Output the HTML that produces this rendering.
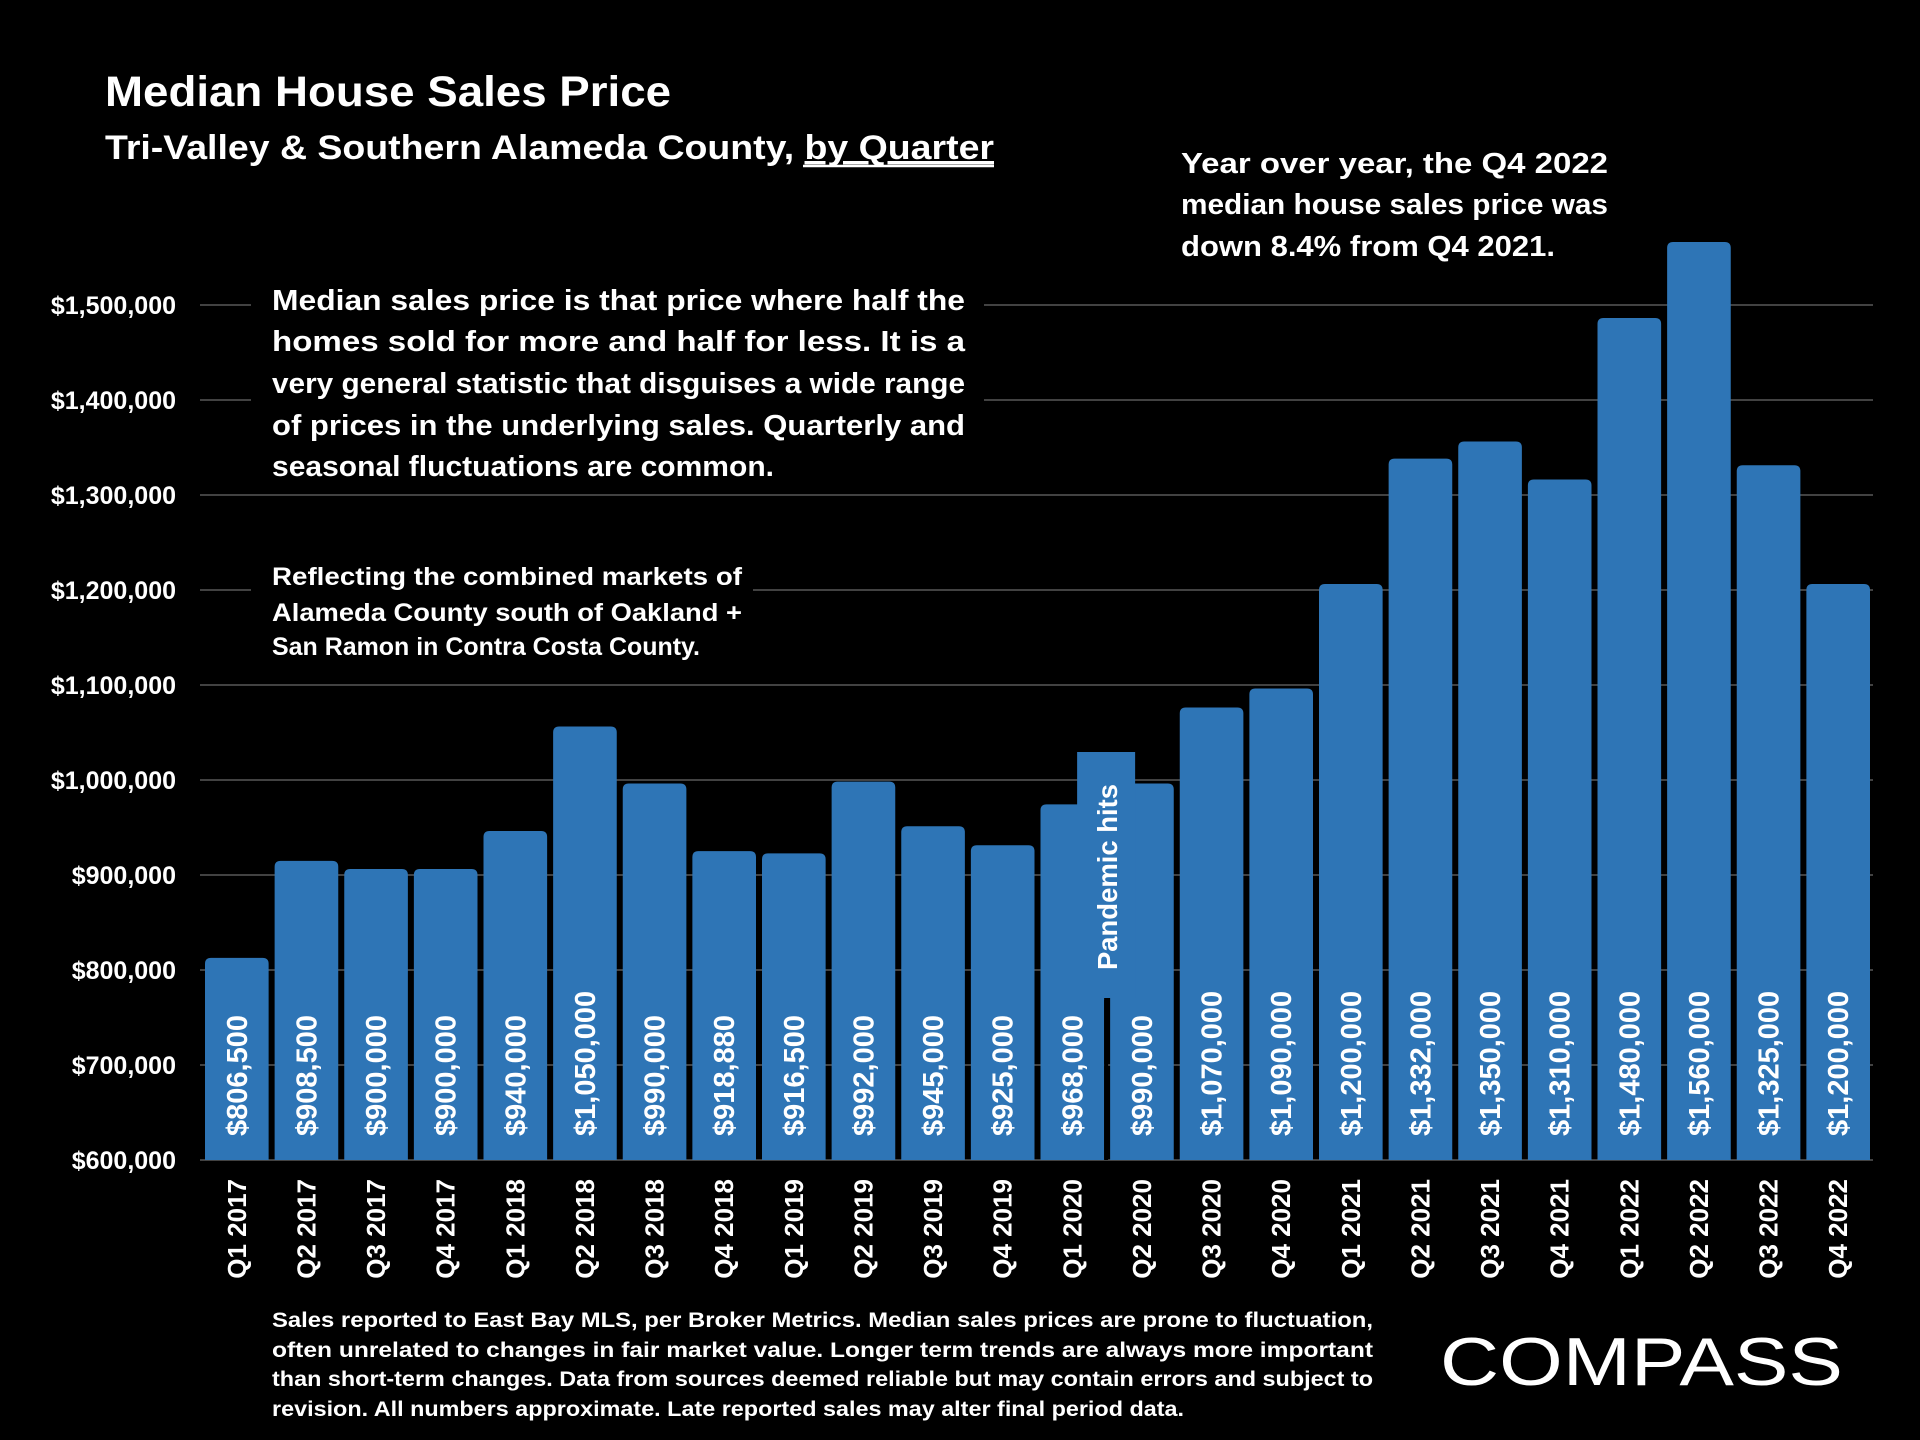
<!DOCTYPE html>
<html><head><meta charset="utf-8"><style>
html,body{margin:0;padding:0;background:#000;}
svg{display:block;font-family:"Liberation Sans",sans-serif;font-weight:bold;}
</style></head><body>
<svg id="chart" width="1920" height="1440" viewBox="0 0 1920 1440" xmlns="http://www.w3.org/2000/svg">
<rect width="1920" height="1440" fill="#000"/>
<g id="grid"></g>
<g id="yaxis"></g>
<g id="bars"></g>
<g id="xaxis"></g>

<g fill="#fff">
<text x="105" y="106" font-size="43" textLength="566" lengthAdjust="spacingAndGlyphs">Median House Sales Price</text>
<text x="105" y="159" font-size="34" textLength="889" lengthAdjust="spacingAndGlyphs">Tri-Valley &amp; Southern Alameda County, <tspan text-decoration="underline">by Quarter</tspan></text>
<line x1="803" y1="166" x2="994" y2="166" stroke="#fff" stroke-width="2.5"/>
</g>

<g fill="#fff" font-size="29">
<text x="1181" y="173" textLength="427" lengthAdjust="spacingAndGlyphs">Year over year, the Q4 2022</text>
<text x="1181" y="214" textLength="427" lengthAdjust="spacingAndGlyphs">median house sales price was</text>
<text x="1181" y="256" textLength="374" lengthAdjust="spacingAndGlyphs">down 8.4% from Q4 2021.</text>
</g>

<g fill="#fff" font-size="29">
<rect x="251" y="272" width="733" height="222" fill="#000"/>
<text x="272" y="310" textLength="693" lengthAdjust="spacingAndGlyphs">Median sales price is that price where half the</text>
<text x="272" y="351" textLength="693" lengthAdjust="spacingAndGlyphs">homes sold for more and half for less. It is a</text>
<text x="272" y="393" textLength="693" lengthAdjust="spacingAndGlyphs">very general statistic that disguises a wide range</text>
<text x="272" y="435" textLength="693" lengthAdjust="spacingAndGlyphs">of prices in the underlying sales. Quarterly and</text>
<text x="272" y="476" textLength="502" lengthAdjust="spacingAndGlyphs">seasonal fluctuations are common.</text>
</g>

<g fill="#fff" font-size="25">
<rect x="251" y="555" width="502" height="112" fill="#000"/>
<text x="272" y="585" textLength="470" lengthAdjust="spacingAndGlyphs">Reflecting the combined markets of</text>
<text x="272" y="621" textLength="470" lengthAdjust="spacingAndGlyphs">Alameda County south of Oakland +</text>
<text x="272" y="655" textLength="428" lengthAdjust="spacingAndGlyphs">San Ramon in Contra Costa County.</text>
</g>

<g id="pandemic"></g>

<g fill="#fff" font-size="21">
<text x="272" y="1327" textLength="1101" lengthAdjust="spacingAndGlyphs">Sales reported to East Bay MLS, per Broker Metrics. Median sales prices are prone to fluctuation,</text>
<text x="272" y="1357" textLength="1101" lengthAdjust="spacingAndGlyphs">often unrelated to changes in fair market value. Longer term trends are always more important</text>
<text x="272" y="1386" textLength="1101" lengthAdjust="spacingAndGlyphs">than short-term changes. Data from sources deemed reliable but may contain errors and subject to</text>
<text x="272" y="1416" textLength="912" lengthAdjust="spacingAndGlyphs">revision. All numbers approximate. Late reported sales may alter final period data.</text>
</g>

<g fill="#fff">
<text x="1440" y="1385" font-size="68" font-weight="normal" textLength="403" lengthAdjust="spacingAndGlyphs">COMPASS</text>
</g>
</svg>
<script>
const categories = ["Q1 2017","Q2 2017","Q3 2017","Q4 2017","Q1 2018","Q2 2018","Q3 2018","Q4 2018","Q1 2019","Q2 2019","Q3 2019","Q4 2019","Q1 2020","Q2 2020","Q3 2020","Q4 2020","Q1 2021","Q2 2021","Q3 2021","Q4 2021","Q1 2022","Q2 2022","Q3 2022","Q4 2022"];
const values = [806500,908500,900000,900000,940000,1050000,990000,918880,916500,992000,945000,925000,968000,990000,1070000,1090000,1200000,1332000,1350000,1310000,1480000,1560000,1325000,1200000];
const valueLabels = ["$806,500","$908,500","$900,000","$900,000","$940,000","$1,050,000","$990,000","$918,880","$916,500","$992,000","$945,000","$925,000","$968,000","$990,000","$1,070,000","$1,090,000","$1,200,000","$1,332,000","$1,350,000","$1,310,000","$1,480,000","$1,560,000","$1,325,000","$1,200,000"];
const yTicks = [600000,700000,800000,900000,1000000,1100000,1200000,1300000,1400000,1500000];
const yTickLabels = ["$600,000","$700,000","$800,000","$900,000","$1,000,000","$1,100,000","$1,200,000","$1,300,000","$1,400,000","$1,500,000"];

const NS = "http://www.w3.org/2000/svg";
const plotL = 202, plotR = 1873, yMin = 600000, yMax = 1500000, y0 = 1160, y1 = 305;
const band = (plotR - plotL) / categories.length;
function xScale(i){ return plotL + i * band; }
function yScale(v){ return y0 - (v - yMin) / (yMax - yMin) * (y0 - y1); }
function mk(tag, attrs, parent){ const e = document.createElementNS(NS, tag); for (const k in attrs) e.setAttribute(k, attrs[k]); parent.appendChild(e); return e; }

const grid = document.getElementById('grid'), yaxis = document.getElementById('yaxis');
yTicks.forEach((t, i) => {
  const ln = mk('line', {x1: 200, x2: plotR, y1: yScale(t), y2: yScale(t), stroke: '#595959', 'stroke-width': 1.5}, grid);
  
  
  const tx = mk('text', {x: 176, y: yScale(t) + 9, 'text-anchor': 'end', 'font-size': 25, fill: '#fff'}, yaxis);
  tx.textContent = yTickLabels[i];
  
  
});

const bars = document.getElementById('bars'), xaxis = document.getElementById('xaxis');
values.forEach((v, i) => {
  const x = xScale(i) + 3, w = band - 6, top = yScale(v) - 6;
  const r = 6;
  const p = mk('path', {d: `M${x},${y0} V${top + r} Q${x},${top} ${x + r},${top} H${x + w - r} Q${x + w},${top} ${x + w},${top + r} V${y0} Z`, fill: '#2e75b6'}, bars);
  
  
  const cx = xScale(i) + band / 2;
  const vt = mk('text', {transform: `translate(${cx + 10},1136) rotate(-90)`, 'font-size': 29, fill: '#fff'}, bars);
  vt.textContent = valueLabels[i];
  
  
  const xt = mk('text', {transform: `translate(${cx + 9},1179) rotate(-90)`, 'text-anchor': 'end', 'font-size': 26, fill: '#fff'}, xaxis);
  xt.textContent = categories[i];
  
  
});

// pandemic callout between Q1 2020 and Q2 2020
const pg = document.getElementById('pandemic');
const bx = xScale(13);
const pr = mk('rect', {x: bx - 30, y: 752, width: 58, height: 246, fill: '#2e75b6'}, pg);


const pl = mk('line', {x1: bx - 1, x2: bx - 1, y1: 1000, y2: y0, stroke: '#000', 'stroke-width': 4}, pg);


const pt = mk('text', {transform: `translate(${bx + 10},970) rotate(-90)`, 'font-size': 28, fill: '#fff', textLength: 186, lengthAdjust: 'spacingAndGlyphs'}, pg);
pt.textContent = 'Pandemic hits';


</script>
</body></html>
